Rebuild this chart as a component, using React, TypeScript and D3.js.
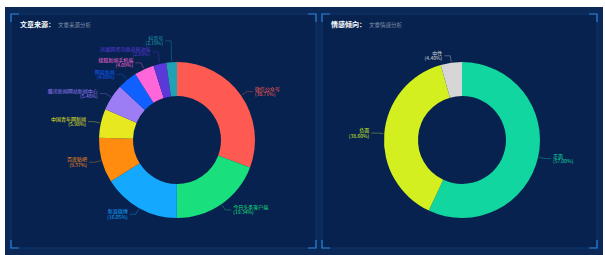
import React from 'react';
import * as d3 from 'd3';

// 文章来源
const sourceNames = [
  '微信公众号',
  '今日头条客户端',
  '新浪微博',
  '百度贴吧',
  '中国青年网新闻',
  '腾讯新闻网站新闻中心',
  '网易新闻',
  '搜狐新闻手机端',
  '凤凰网资讯频道移动端',
  '抖音号',
];
const sourceValues = [30.8, 19.4, 16.1, 9.4, 6.0, 5.5, 4.1, 4.1, 2.7, 2.2];
const sourceColors = [
  '#ff5a52', '#19e07c', '#14a9ff', '#ff8c0f', '#e8e820',
  '#9c7df5', '#1060ff', '#ff66d9', '#5b38d8', '#1fa2b3',
];

// 情感倾向
const sentimentNames = ['正面', '负面', '中性'];
const sentimentValues = [57.0, 38.6, 4.4];
const sentimentColors = ['#12d6a0', '#d3ef1f', '#d6d6d6'];

const W = 605;
const H = 255;
const OUTER = 78;
const INNER = 44;

interface Slice {
  name: string;
  value: number;
  color: string;
}

interface LabelPos {
  s: d3.PieArcDatum<Slice>;
  right: boolean;
  p1: [number, number];
  p2: [number, number];
  y: number;
}

const buildLabels = (arcs: d3.PieArcDatum<Slice>[]): LabelPos[] => {
  const labels: LabelPos[] = arcs.map(s => {
    const a = (s.startAngle + s.endAngle) / 2;
    const p1: [number, number] = [Math.sin(a) * (OUTER + 1), -Math.cos(a) * (OUTER + 1)];
    const p2: [number, number] = [Math.sin(a) * (OUTER + 7), -Math.cos(a) * (OUTER + 7)];
    return { s, right: Math.sin(a) >= 0, p1, p2, y: p2[1] };
  });
  // simple overlap avoidance on each side, pushing upward
  [true, false].forEach(side => {
    const group = labels.filter(l => l.right === side).sort((a, b) => b.y - a.y);
    for (let i = 1; i < group.length; i++) {
      if (group[i].y > group[i - 1].y - 11) group[i].y = group[i - 1].y - 11;
    }
  });
  return labels;
};

const Donut: React.FC<{ cx: number; cy: number; names: string[]; values: number[]; colors: string[] }> = ({
  cx, cy, names, values, colors,
}) => {
  const data: Slice[] = names.map((n, i) => ({ name: n, value: values[i], color: colors[i] }));
  const total = d3.sum(values);
  const pie = d3.pie<Slice>().value(d => d.value).sort(null).startAngle(0).endAngle(Math.PI * 2);
  const arc = d3.arc<d3.PieArcDatum<Slice>>().innerRadius(INNER).outerRadius(OUTER);
  const arcs = pie(data);
  const labels = buildLabels(arcs);
  const fmt = d3.format('.2%');

  return (
    <g transform={`translate(${cx},${cy})`}>
      {arcs.map((s, i) => (
        <path key={i} d={arc(s) || ''} fill={s.data.color} />
      ))}
      {labels.map((l, i) => {
        const dir = l.right ? 1 : -1;
        const x3 = l.p2[0] + dir * 6;
        const tx = x3 + dir * 2;
        return (
          <g key={i}>
            <polyline
              points={`${l.p1[0]},${l.p1[1]} ${l.p2[0]},${l.y} ${x3},${l.y}`}
              fill="none"
              stroke={l.s.data.color}
              strokeOpacity={0.6}
              strokeWidth={0.6}
            />
            <text
              x={tx}
              y={l.y}
              textAnchor={l.right ? 'start' : 'end'}
              fill={l.s.data.color}
              fontSize={5}
              fontFamily="'Noto Sans CJK SC', sans-serif"
            >
              <tspan x={tx} dy={-1}>{l.s.data.name}</tspan>
              <tspan x={tx} dy={5.5}>({fmt(l.s.data.value / total)})</tspan>
            </text>
          </g>
        );
      })}
    </g>
  );
};

const Corners: React.FC<{ x0: number; y0: number; x1: number; y1: number }> = ({ x0, y0, x1, y1 }) => {
  const L = 8;
  const c = '#2b82d8';
  return (
    <g fill="none" stroke={c} strokeWidth={1.2}>
      <path d={`M${x0},${y0 + L} V${y0} H${x0 + L}`} />
      <path d={`M${x1 - L},${y0} H${x1} V${y0 + L}`} />
      <path d={`M${x0},${y1 - L} V${y1} H${x0 + L}`} />
      <path d={`M${x1 - L},${y1} H${x1} V${y1 - L}`} />
    </g>
  );
};

const Panel: React.FC<{ x: number; y: number; w: number; h: number; title: string; sub: string }> = ({
  x, y, w, h, title, sub,
}) => (
  <g>
    <rect x={x} y={y} width={w} height={h} fill="#07224f" stroke="#0f3469" strokeWidth={1} />
    <Corners x0={x} y0={y} x1={x + w} y1={y + h} />
    <text x={x + 9} y={y + 13} fill="#ffffff" fontSize={7} fontWeight="bold" fontFamily="'Noto Sans CJK SC', sans-serif">
      {title}
      <tspan dx={3} fill="#7f8fa8" fontWeight="normal" fontSize={5.5}>{sub}</tspan>
    </text>
  </g>
);

const App: React.FC = () => (
  <div style={{ position: 'fixed', left: 0, top: 0, width: W, height: H, background: '#ffffff' }}>
    <svg width={W} height={H} style={{ display: 'block' }}>
      <rect x={5} y={7} width={598} height={248} fill="#0a2858" />
      <Panel x={11} y={14} w={305} h={234} title="文章来源：" sub="文章来源分析" />
      <Panel x={322} y={14} w={275} h={234} title="情感倾向：" sub="文章情感分析" />
      <Donut cx={177} cy={140} names={sourceNames} values={sourceValues} colors={sourceColors} />
      <Donut cx={462} cy={140} names={sentimentNames} values={sentimentValues} colors={sentimentColors} />
    </svg>
  </div>
);

export default App;
